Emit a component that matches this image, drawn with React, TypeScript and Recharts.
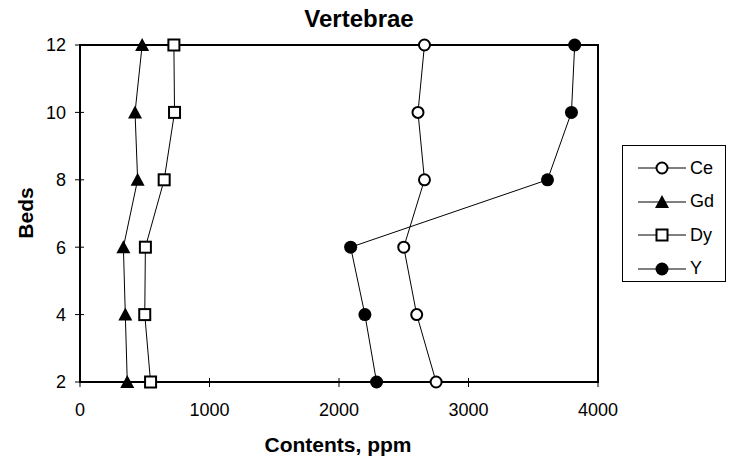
import React from 'react';
import { ScatterChart, Scatter, XAxis, YAxis, ReferenceArea } from 'recharts';

// Beds (y axis) and element contents in ppm
const beds = [2, 4, 6, 8, 10, 12];
const ce = [2750, 2600, 2500, 2660, 2610, 2660];
const gd = [365, 350, 335, 445, 425, 480];
const dy = [545, 500, 505, 650, 730, 725];
const yt = [2290, 2200, 2090, 3610, 3795, 3820];

const xTicks = [0, 1000, 2000, 3000, 4000];
const yTicks = [2, 4, 6, 8, 10, 12];

type MarkerKind = 'openCircle' | 'triangle' | 'openSquare' | 'dot';

const series: { name: string; values: number[]; marker: MarkerKind }[] = [
    { name: 'Ce', values: ce, marker: 'openCircle' },
    { name: 'Gd', values: gd, marker: 'triangle' },
    { name: 'Dy', values: dy, marker: 'openSquare' },
    { name: 'Y', values: yt, marker: 'dot' },
];

const FONT = '"Liberation Sans", Arial, sans-serif';

const Marker = ({ kind, cx, cy }: { kind: MarkerKind; cx: number; cy: number }) => {
    if (kind === 'openCircle') {
        return <circle cx={cx} cy={cy} r={5.5} fill="#fff" stroke="#000" strokeWidth={2} />;
    }
    if (kind === 'dot') {
        return <circle cx={cx} cy={cy} r={6.5} fill="#000" />;
    }
    if (kind === 'openSquare') {
        return <rect x={cx - 5.5} y={cy - 5.5} width={11} height={11} fill="#fff" stroke="#000" strokeWidth={2} />;
    }
    return <path d={`M${cx},${cy - 7} L${cx + 7},${cy + 6} L${cx - 7},${cy + 6} Z`} fill="#000" />;
};

const makeShape = (kind: MarkerKind) => (props: any) => <Marker kind={kind} cx={props.cx} cy={props.cy} />;

// tick mark that crosses the axis line, like the original
const XTick = (props: any) => {
    const { x, y, payload } = props;
    return (
        <g>
            <line x1={x} y1={382 - 4} x2={x} y2={382 + 5} stroke="#000" />
            <text x={x} y={y} dy="0.71em" textAnchor="middle" fontSize={18} fill="#000">
                {payload.value}
            </text>
        </g>
    );
};

const YTick = (props: any) => {
    const { x, y, payload } = props;
    return (
        <g>
            <line x1={80 - 5} y1={y} x2={80 + 4} y2={y} stroke="#000" />
            <text x={x} y={y} dy="0.355em" textAnchor="end" fontSize={18} fill="#000">
                {payload.value}
            </text>
        </g>
    );
};

const LegendBox = () => (
    <div
        style={{
            position: 'absolute',
            left: 622,
            top: 145,
            width: 104,
            height: 137,
            boxSizing: 'border-box',
            border: '1px solid #000',
            background: '#fff',
        }}
    >
        {series.map((s, i) => (
            <div key={s.name} style={{ position: 'absolute', left: 13, top: 10 + i * 33.5, height: 24, display: 'flex', alignItems: 'center' }}>
                <svg width={52} height={24}>
                    <line x1={2} y1={12} x2={50} y2={12} stroke="#000" strokeWidth={1} />
                    <Marker kind={s.marker} cx={26} cy={12} />
                </svg>
                <span style={{ fontSize: 18, marginLeft: 2, color: '#000' }}>{s.name}</span>
            </div>
        ))}
    </div>
);

export default function App() {
    return (
        <div style={{ position: 'absolute', left: 0, top: 0, width: 729, height: 463, background: '#fff', fontFamily: FONT }}>
            <div
                style={{
                    position: 'absolute',
                    left: 0,
                    width: 718,
                    top: 5,
                    textAlign: 'center',
                    fontWeight: 'bold',
                    fontSize: 24,
                    lineHeight: '28px',
                    color: '#000',
                }}
            >
                Vertebrae
            </div>
            <ScatterChart width={729} height={463} margin={{ top: 45, right: 131, bottom: 0, left: 0 }}>
                <XAxis
                    type="number"
                    dataKey="x"
                    domain={[0, 4000]}
                    ticks={xTicks}
                    height={81}
                    tick={<XTick />}
                    tickSize={5}
                    tickMargin={16}
                    axisLine={{ stroke: '#000', strokeWidth: 2 }}
                    tickLine={false}
                    label={{
                        content: () => (
                            <text x={338} y={444} textAnchor="middle" dominantBaseline="central" fontWeight="bold" fontSize={21} fill="#000">
                                Contents, ppm
                            </text>
                        ),
                    }}
                />
                <YAxis
                    type="number"
                    dataKey="y"
                    domain={[2, 12]}
                    ticks={yTicks}
                    width={80}
                    tick={<YTick />}
                    tickSize={5}
                    tickMargin={9}
                    axisLine={{ stroke: '#000', strokeWidth: 2 }}
                    tickLine={false}
                    label={{
                        content: () => (
                            <text
                                x={25}
                                y={213}
                                transform="rotate(-90 25 213)"
                                textAnchor="middle"
                                dominantBaseline="central"
                                fontWeight="bold"
                                fontSize={21}
                                fill="#000"
                            >
                                Beds
                            </text>
                        ),
                    }}
                />
                <ReferenceArea x1={0} x2={4000} y1={2} y2={12} fill="none" stroke="#000" strokeWidth={2} fillOpacity={0} />
                {series.map(s => (
                    <Scatter
                        key={s.name}
                        name={s.name}
                        data={beds.map((b, i) => ({ x: s.values[i], y: b }))}
                        line={{ stroke: '#000', strokeWidth: 1 }}
                        shape={makeShape(s.marker)}
                        isAnimationActive={false}
                    />
                ))}
            </ScatterChart>
            <LegendBox />
        </div>
    );
}
